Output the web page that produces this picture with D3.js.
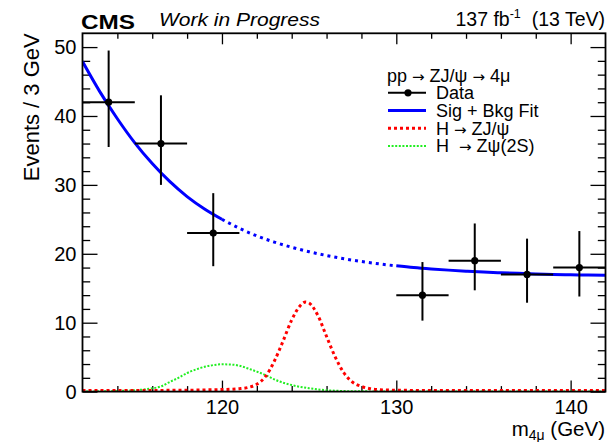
<!DOCTYPE html>
<html>
<head>
<meta charset="utf-8">
<script src="https://cdn.jsdelivr.net/npm/d3@7"></script>
<style>
  body { margin: 0; background: #fff; }
  svg { display: block; font-family: "Liberation Sans", Arial, Helvetica, sans-serif; }
  .arrow { font-family: "DejaVu Sans", sans-serif; }
</style>
</head>
<body>
<svg id="chart" width="607" height="442"></svg>
<script>
// Observed four-muon mass spectrum in 3 GeV bins (121-130 GeV kept blind)
const binCenters = [113.5, 116.5, 119.5, 131.5, 134.5, 137.5, 140.5];
const counts     = [42, 36, 23, 14, 19, 17, 18];
const errLow     = [6.5, 6.0, 4.8, 3.7, 4.3, 4.1, 4.2];
const errHigh    = [7.5, 7.0, 5.8, 4.8, 5.4, 5.2, 5.3];
const binHalfWidth = 1.5;

// Signal + background fit, sampled along the mass axis
const fitMass  = [112, 113, 114, 115, 116, 117, 118, 119, 120, 121, 122, 123, 124, 125, 126,
                  127, 128, 129, 130, 131, 132, 133, 134, 135, 136, 137, 138, 139, 140, 141, 142];
const fitValue = [47.9, 43.5, 39.6, 36.1, 33.1, 30.5, 28.3, 26.5, 25.0, 23.7, 22.6, 21.7, 20.95, 20.3, 19.75,
                  19.28, 18.88, 18.54, 18.25, 18.0, 17.8, 17.63, 17.48, 17.35, 17.25, 17.16, 17.08, 17.01, 16.96, 16.91, 16.87];
const blindRange = [120, 130];

// H -> Z J/psi signal shape
const jpsiMass  = [112, 114, 116, 118, 119, 120, 121, 121.5, 122, 122.5, 123, 123.5, 124, 124.5, 124.8,
                   125, 125.5, 126, 126.5, 127, 127.5, 128, 128.5, 129, 130, 132, 136, 142];
const jpsiValue = [0.15, 0.15, 0.17, 0.2, 0.24, 0.3, 0.42, 0.6, 1.07, 2.2, 4.4, 7.3, 10.4, 12.5, 13.0,
                   12.85, 11.05, 8.0, 5.0, 2.7, 1.35, 0.75, 0.42, 0.28, 0.2, 0.16, 0.15, 0.15];

// H -> Z psi(2S) signal shape
const psi2sMass  = [112, 113, 114, 115, 116, 116.5, 117, 117.5, 118, 118.5, 119, 119.5, 120, 120.5, 121,
                    121.5, 122, 122.5, 123, 123.5, 124, 124.5, 125, 125.5, 126, 126.5, 127, 128, 130, 142];
const psi2sValue = [0.02, 0.04, 0.1, 0.2, 0.48, 0.75, 1.4, 2.0, 2.7, 3.2, 3.6, 3.85, 3.96, 3.93, 3.75,
                    3.35, 2.9, 2.4, 1.78, 1.3, 0.95, 0.68, 0.48, 0.32, 0.2, 0.13, 0.08, 0.04, 0.02, 0.01];

// Axis ticks
const xMajorTicks = [120, 130, 140];
const xMinorTicks = [114, 116, 118, 122, 124, 126, 128, 132, 134, 136, 138];
const yMajorTicks = [0, 10, 20, 30, 40, 50];
const yMinorTicks = [2, 4, 6, 8, 12, 14, 16, 18, 22, 24, 26, 28, 32, 34, 36, 38, 42, 44, 46, 48];
const xDomain = [112, 142];
const yDomain = [0, 52];

const svg = d3.select("#chart");
const frame = { left: 82.5, right: 605.5, top: 33.3, bottom: 391.6 };

const x = d3.scaleLinear().domain(xDomain).range([frame.left, frame.right]);
const y = d3.scaleLinear().domain(yDomain).range([frame.bottom, frame.top]);

svg.append("defs").append("clipPath").attr("id", "plotArea")
  .append("rect")
  .attr("x", frame.left).attr("y", frame.top - 2)
  .attr("width", frame.right - frame.left).attr("height", frame.bottom - frame.top + 2);

// ---- axes with inward ticks on all four sides ----
function styleAxis(g) {
  g.select(".domain").remove();
  g.selectAll(".tick line").attr("stroke", "#000").attr("stroke-width", 1.3);
  g.selectAll(".tick text").attr("fill", "#000")
    .attr("font-size", 20).attr("font-family", "Liberation Sans, Arial, sans-serif");
}

const axisG = svg.append("g");

axisG.append("g").attr("transform", `translate(0,${frame.bottom})`)
  .call(d3.axisBottom(x).tickValues(xMajorTicks).tickSize(-11).tickPadding(8).tickFormat(d3.format("d")))
  .call(styleAxis);
axisG.append("g").attr("transform", `translate(0,${frame.bottom})`)
  .call(d3.axisBottom(x).tickValues(xMinorTicks).tickSize(-5.5).tickFormat(""))
  .call(styleAxis);
axisG.append("g").attr("transform", `translate(0,${frame.top})`)
  .call(d3.axisTop(x).tickValues(xMajorTicks).tickSize(-11).tickFormat(""))
  .call(styleAxis);
axisG.append("g").attr("transform", `translate(0,${frame.top})`)
  .call(d3.axisTop(x).tickValues(xMinorTicks).tickSize(-5.5).tickFormat(""))
  .call(styleAxis);

axisG.append("g").attr("transform", `translate(${frame.left},0)`)
  .call(d3.axisLeft(y).tickValues(yMajorTicks).tickSize(-15).tickPadding(6).tickFormat(d3.format("d")))
  .call(styleAxis);
axisG.append("g").attr("transform", `translate(${frame.left},0)`)
  .call(d3.axisLeft(y).tickValues(yMinorTicks).tickSize(-7.7).tickFormat(""))
  .call(styleAxis);
axisG.append("g").attr("transform", `translate(${frame.right},0)`)
  .call(d3.axisRight(y).tickValues(yMajorTicks).tickSize(-15).tickFormat(""))
  .call(styleAxis);
axisG.append("g").attr("transform", `translate(${frame.right},0)`)
  .call(d3.axisRight(y).tickValues(yMinorTicks).tickSize(-7.7).tickFormat(""))
  .call(styleAxis);

// ---- curves ----
const plot = svg.append("g").attr("clip-path", "url(#plotArea)");
const line = d3.line().x(d => x(d[0])).y(d => y(d[1])).curve(d3.curveMonotoneX);

const psi2sPts = psi2sMass.map((m, i) => [m, psi2sValue[i]]);
const jpsiPts = jpsiMass.map((m, i) => [m, jpsiValue[i]]);
const fitPts = fitMass.map((m, i) => [m, fitValue[i]]);

plot.append("path").attr("d", line(psi2sPts))
  .attr("fill", "none").attr("stroke", "#22ee22").attr("stroke-width", 2).attr("stroke-dasharray", "2,1.6");
plot.append("path").attr("d", line(jpsiPts))
  .attr("fill", "none").attr("stroke", "#ff0000").attr("stroke-width", 3).attr("stroke-dasharray", "3,3");

const fitLeft = fitPts.filter(d => d[0] <= blindRange[0]);
const fitBlind = fitPts.filter(d => d[0] >= blindRange[0] && d[0] <= blindRange[1]);
const fitRight = fitPts.filter(d => d[0] >= blindRange[1]);
[fitLeft, fitRight].forEach(seg => plot.append("path").attr("d", line(seg))
  .attr("fill", "none").attr("stroke", "#0000ff").attr("stroke-width", 3));
plot.append("path").attr("d", line(fitBlind))
  .attr("fill", "none").attr("stroke", "#0000ff").attr("stroke-width", 3).attr("stroke-dasharray", "3,4");

// ---- data points with error bars ----
const dataG = svg.append("g");
binCenters.forEach((c, i) => {
  const g = dataG.append("g");
  g.append("line")
    .attr("x1", x(c - binHalfWidth)).attr("x2", x(c + binHalfWidth))
    .attr("y1", y(counts[i])).attr("y2", y(counts[i]))
    .attr("stroke", "#000").attr("stroke-width", 2);
  g.append("line")
    .attr("x1", x(c)).attr("x2", x(c))
    .attr("y1", y(counts[i] - errLow[i])).attr("y2", y(counts[i] + errHigh[i]))
    .attr("stroke", "#000").attr("stroke-width", 2);
  g.append("circle").attr("cx", x(c)).attr("cy", y(counts[i])).attr("r", 3.6).attr("fill", "#000");
});

// ---- frame ----
svg.append("rect")
  .attr("x", frame.left).attr("y", frame.top)
  .attr("width", frame.right - frame.left).attr("height", frame.bottom - frame.top)
  .attr("fill", "none").attr("stroke", "#000").attr("stroke-width", 1.8);

// ---- titles ----
svg.append("text")
  .attr("transform", `translate(39,${frame.top}) rotate(-90)`)
  .attr("text-anchor", "end").attr("font-size", 22).text("Events / 3 GeV");

const xTitle = svg.append("text")
  .attr("x", 605).attr("y", 435.5).attr("text-anchor", "end").attr("font-size", 20.5);
xTitle.append("tspan").text("m");
xTitle.append("tspan").attr("font-size", 14).attr("dy", 4).text("4μ");
xTitle.append("tspan").attr("dy", -4).text("\u00a0(GeV)");

svg.append("text").attr("x", 81).attr("y", 29.3).attr("font-size", 21).attr("font-weight", "bold")
  .attr("textLength", 54).attr("lengthAdjust", "spacingAndGlyphs")
  .text("CMS");
svg.append("text").attr("x", 159).attr("y", 26).attr("font-size", 18.5).attr("font-style", "italic")
  .attr("textLength", 161).attr("lengthAdjust", "spacingAndGlyphs")
  .text("Work in Progress");

const lumi = svg.append("text").attr("x", 605).attr("y", 26).attr("text-anchor", "end").attr("font-size", 19.5);
lumi.append("tspan").text("137 fb");
lumi.append("tspan").attr("font-size", 12.5).attr("dy", -8).text("-1");
lumi.append("tspan").attr("dy", 8).text("\u00a0\u00a0(13 TeV)");

// ---- legend ----
const legend = svg.append("g").attr("font-size", 18);

// Writes a label whose arrows are set in a font with a full-width arrow glyph
function richLabel(sel, label) {
  label.split(/(→)/).forEach(part => {
    if (!part) return;
    const t = sel.append("tspan").text(part);
    if (part === "→") t.attr("class", "arrow").attr("font-size", 15);
  });
}

richLabel(legend.append("text").attr("x", 387).attr("y", 81.5), "pp → ZJ/ψ → 4μ");

const legendRows = [
  { label: "Data", color: "#000", width: 2, dash: null, marker: true },
  { label: "Sig + Bkg Fit", color: "#0000ff", width: 3, dash: null },
  { label: "H → ZJ/ψ", color: "#ff0000", width: 3, dash: "3,3" },
  { label: "H\u00a0 → Zψ(2S)", color: "#22ee22", width: 2, dash: "2,1.6" }
];
const rowY = d3.scaleLinear().domain([0, 3]).range([92.8, 146]);
legendRows.forEach((r, i) => {
  const yy = rowY(i);
  const ln = legend.append("line").attr("x1", 388).attr("x2", 426).attr("y1", yy).attr("y2", yy)
    .attr("stroke", r.color).attr("stroke-width", r.width);
  if (r.dash) ln.attr("stroke-dasharray", r.dash);
  if (r.marker) legend.append("circle").attr("cx", 408).attr("cy", yy).attr("r", 3.6).attr("fill", "#000");
  richLabel(legend.append("text").attr("x", 436).attr("y", yy + 6.3), r.label);
});
</script>
</body>
</html>
